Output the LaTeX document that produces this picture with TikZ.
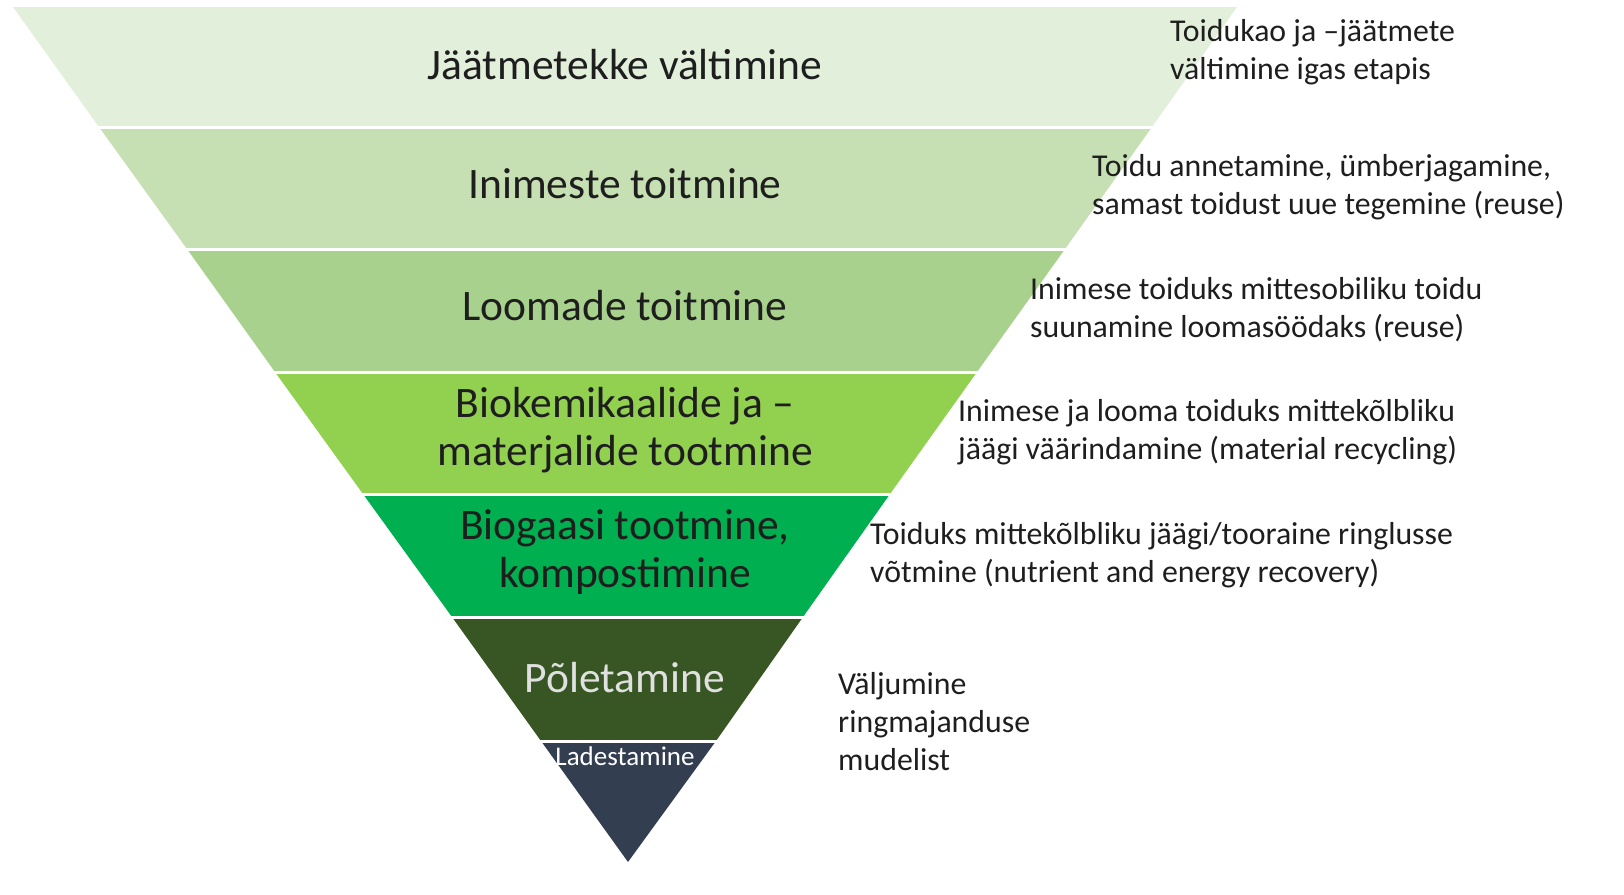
\documentclass[tikz,border=0pt]{standalone}
\usepackage{fontspec}
\setmainfont{Carlito}
\definecolor{bA}{HTML}{E2EFDA}
\definecolor{bB}{HTML}{C6E0B4}
\definecolor{bC}{HTML}{A9D18E}
\definecolor{bD}{HTML}{92D050}
\definecolor{bE}{HTML}{00B050}
\definecolor{bF}{HTML}{375623}
\definecolor{bG}{HTML}{333F50}
\definecolor{txt}{HTML}{1E1E1E}
\tikzset{
  biglabel/.style={align=center,text=txt,font=\fontsize{43.5}{48}\selectfont,inner sep=0pt},
  sidelabel/.style={anchor=west,align=left,text=txt,font=\fontsize{31.8}{38}\selectfont,inner sep=0pt},
  sep/.style={white,line width=3pt}
}
\begin{document}
\begin{tikzpicture}[x=1pt,y=-1pt]
\useasboundingbox (0,0) rectangle (1624,894);
% bands
\fill[bA] (13,7) -- (1237,7) -- (1152,127) -- (99,127) -- cycle;
\fill[bB] (99,127) -- (1152,127) -- (1065,249) -- (187,249) -- cycle;
\fill[bC] (187,249) -- (1065,249) -- (977,372) -- (275,372) -- cycle;
\fill[bD] (275,372) -- (977,372) -- (890,494) -- (363,494) -- cycle;
\fill[bE] (363,494) -- (890,494) -- (803,617) -- (452,617) -- cycle;
\fill[bF] (452,617) -- (803,617) -- (716,741) -- (541,741) -- cycle;
\fill[bG] (541,741) -- (716,741) -- (628,862) -- cycle;
% separators
\foreach \yy/\xl/\xr in {127/97/1154,249/185/1067,372/273/979,494/361/892,617/450/805,741/539/718}
  \draw[sep] (\xl,\yy) -- (\xr,\yy);
% band labels
\node[biglabel] (l1) at (625,65) {Jäätmetekke vältimine};
\node[biglabel] (l2) at (625,184) {Inimeste toitmine};
\node[biglabel] (l3) at (625,306) {Loomade toitmine};
\node[biglabel] (l4) at (625,430) {Biokemikaalide ja –\\materjalide tootmine};
\node[biglabel] (l5) at (625,552) {Biogaasi tootmine,\\kompostimine};
\node[biglabel,text=white!88!black] (l6) at (625,678) {Põletamine};
\node[biglabel,text=white,font=\fontsize{27}{30}\selectfont] (l7) at (625,756) {Ladestamine};
% side labels
\node[sidelabel] (r1) at (1170,52) {Toidukao ja –jäätmete\\vältimine igas etapis};
\node[sidelabel] (r2) at (1092,187) {Toidu annetamine, ümberjagamine,\\samast toidust uue tegemine (reuse)};
\node[sidelabel] (r3) at (1030,310) {Inimese toiduks mittesobiliku toidu\\suunamine loomasöödaks (reuse)};
\node[sidelabel] (r4) at (958,432) {Inimese ja looma toiduks mittekõlbliku\\jäägi väärindamine (material recycling)};
\node[sidelabel] (r5) at (870,555) {Toiduks mittekõlbliku jäägi/tooraine ringlusse\\võtmine (nutrient and energy recovery)};
\node[sidelabel] (r6) at (838,722) {Väljumine\\ringmajanduse\\mudelist};
\end{tikzpicture}
\end{document}
